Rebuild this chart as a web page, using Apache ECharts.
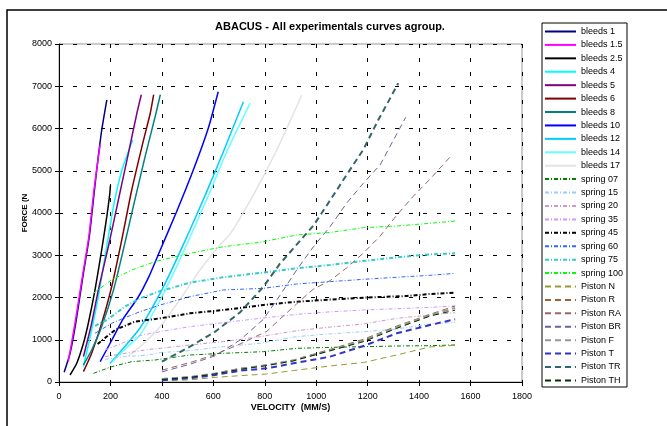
<!DOCTYPE html>
<html>
<head>
<meta charset="utf-8">
<script src="https://cdn.jsdelivr.net/npm/echarts@6/dist/echarts.min.js"></script>
<style>
  html, body { margin: 0; padding: 0; background: #fff; }
  #chart { width: 667px; height: 426px; }
</style>
</head>
<body>
<div id="chart"></div>
<script>
// velocity (mm/s), force (N) pairs
var bleeds1   = [[20,230],[43,680],[65,1390],[93,2500],[118,3450],[138,4550],[152,5300],[167,6000],[186,6680]];
var bleeds1_5 = [[36,480],[62,1390],[91,2500],[116,3444],[136,4550],[148,5100],[160,5620]];
var bleeds2_5 = [[43,166],[69,442],[95,916],[114,1390],[140,2180],[166,3128],[186,3918],[197,4430],[200,4650]];
var bleeds4   = [[95,363],[127,1232],[153,2022],[179,2970],[212,4155],[245,5024],[287,5735]];
var bleeds5   = [[95,600],[127,1390],[153,2180],[192,3207],[231,4313],[270,5419],[303,6367],[320,6800]];
var bleeds6   = [[95,245],[127,680],[166,1390],[205,2260],[244,3365],[283,4550],[329,5735],[355,6367],[368,6800]];
var bleeds8   = [[95,403],[127,758],[166,1311],[212,2180],[250,3128],[289,4155],[335,5340],[374,6288],[394,6800]];
var bleeds10  = [[160,480],[206,1000],[250,1500],[307,2000],[350,2500],[385,3000],[455,4000],[521,5000],[580,6000],[619,6870]];
var bleeds12  = [[199,442],[250,800],[315,1278],[393,2099],[444,2730],[509,3598],[574,4500],[639,5450],[717,6635]];
var bleeds14  = [[205,460],[260,800],[315,1112],[393,1941],[457,2730],[522,3598],[587,4500],[652,5450],[743,6600]];
var bleeds17  = [[270,620],[315,836],[393,1310],[470,1950],[548,2650],[626,3250],[665,3500],[730,4150],[794,4860],[859,5650],[944,6793]];

var spring07  = [[134,205],[205,363],[283,482],[374,521],[509,639],[639,679],[794,718],[924,797],[1054,820],[1183,836],[1313,852],[1442,860],[1540,876]];
var spring15  = [[179,537],[257,600],[348,640],[393,695],[509,742],[639,837],[781,916],[924,1073],[1054,1140],[1183,1191],[1313,1254],[1442,1373],[1540,1412]];
var spring20  = [[179,600],[257,679],[348,774],[393,796],[509,876],[639,955],[781,1073],[924,1215],[1054,1300],[1183,1373],[1313,1507],[1442,1585],[1540,1641]];
var spring35  = [[179,758],[244,916],[315,1100],[393,1191],[509,1310],[639,1404],[781,1507],[924,1601],[1054,1660],[1183,1704],[1352,1744],[1442,1767],[1540,1799]];
var spring45  = [[150,900],[218,1232],[296,1430],[393,1507],[509,1625],[639,1704],[794,1822],[924,1901],[1054,1950],[1183,1996],[1352,2036],[1442,2083],[1540,2115]];
var spring60  = [[140,1153],[205,1390],[283,1588],[315,1665],[393,1822],[509,2020],[639,2178],[794,2217],[924,2320],[1054,2375],[1183,2430],[1352,2493],[1442,2525],[1540,2572]];
var spring75  = [[140,1330],[186,1470],[257,1785],[315,1981],[393,2150],[509,2350],[639,2480],[794,2590],[924,2691],[1054,2770],[1183,2864],[1313,2951],[1442,3022],[1540,3046]];
var spring100 = [[134,2100],[205,2420],[283,2650],[374,2850],[509,3046],[639,3203],[781,3306],[924,3479],[1054,3540],[1183,3652],[1313,3692],[1442,3756],[1540,3810]];

var pistonN  = [[400,30],[509,50],[607,110],[704,150],[808,190],[911,270],[1054,380],[1183,460],[1313,640],[1442,830],[1540,870]];
var pistonR  = [[400,70],[509,120],[607,205],[704,324],[808,402],[911,521],[1054,774],[1183,1010],[1313,1325],[1442,1602],[1540,1800]];
var pistonRA = [[400,280],[509,460],[607,650],[704,900],[808,1200],[870,1550],[924,1850],[989,2200],[1054,2400],[1118,2700],[1183,3050],[1248,3450],[1313,3950],[1378,4400],[1442,4800],[1527,5370]];
var pistonBR = [[400,240],[509,420],[607,620],[704,994],[794,1480],[859,2050],[924,2651],[989,3203],[1054,3677],[1118,4230],[1183,4703],[1248,5136],[1348,6266]];
var pistonF  = [[400,70],[509,120],[607,200],[704,310],[808,400],[911,510],[1054,750],[1183,980],[1313,1290],[1442,1580],[1540,1750]];
var pistonT  = [[400,40],[509,90],[607,166],[704,268],[808,324],[911,442],[1054,600],[1183,852],[1313,1152],[1442,1349],[1540,1484]];
var pistonTR = [[400,480],[509,836],[607,1191],[704,1650],[794,2250],[859,2800],[924,3250],[989,3700],[1054,4300],[1118,4900],[1183,5500],[1241,6200],[1319,7070]];
var pistonTH = [[400,60],[509,110],[607,190],[704,300],[808,390],[911,500],[1054,740],[1183,954],[1313,1270],[1442,1560],[1540,1700]];

var xTicks = [0, 200, 400, 600, 800, 1000, 1200, 1400, 1600, 1800];
var yTicks = [0, 1000, 2000, 3000, 4000, 5000, 6000, 7000, 8000];

var font = 'Liberation Sans, Arial, sans-serif';
var springDash = [4, 2, 1, 2];
var pistonDash = [6, 4];

line = function(name, data, color, dash, width) {
    return {
        name: name,
        type: 'line',
        data: data,
        symbol: 'none',
        showSymbol: false,
        smooth: dash === 'solid' ? 0.2 : false,
        lineStyle: { color: color, width: width, type: dash },
        itemStyle: { color: color },
        emphasis: { disabled: true }
    };
};

var series = [
    line('bleeds 1', bleeds1, '#000080', 'solid', 1.5),
    line('bleeds 1.5', bleeds1_5, '#FF00FF', 'solid', 1.5),
    line('bleeds 2.5', bleeds2_5, '#000000', 'solid', 1.5),
    line('bleeds 4', bleeds4, '#00FFFF', 'solid', 1.5),
    line('bleeds 5', bleeds5, '#800080', 'solid', 1.5),
    line('bleeds 6', bleeds6, '#800000', 'solid', 1.5),
    line('bleeds 8', bleeds8, '#008080', 'solid', 1.5),
    line('bleeds 10', bleeds10, '#0000FF', 'solid', 1.5),
    line('bleeds 12', bleeds12, '#00CCFF', 'solid', 1.5),
    line('bleeds 14', bleeds14, '#66FFFF', 'solid', 1.5),
    line('bleeds 17', bleeds17, '#E3E3E3', 'solid', 1.5),
    line('spring 07', spring07, '#008000', springDash, 1),
    line('spring 15', spring15, '#99CCFF', springDash, 1),
    line('spring 20', spring20, '#CC99CC', springDash, 1),
    line('spring 35', spring35, '#CC99FF', springDash, 1),
    line('spring 45', spring45, '#000000', springDash, 2),
    line('spring 60', spring60, '#3366FF', springDash, 1),
    line('spring 75', spring75, '#33CCCC', springDash, 2),
    line('spring 100', spring100, '#00FF00', springDash, 1),
    line('Piston N', pistonN, '#999933', pistonDash, 1),
    line('Piston R', pistonR, '#996633', pistonDash, 1),
    line('Piston RA', pistonRA, '#996666', pistonDash, 1),
    line('Piston BR', pistonBR, '#666699', pistonDash, 1),
    line('Piston F', pistonF, '#969696', pistonDash, 2),
    line('Piston T', pistonT, '#3333CC', pistonDash, 2),
    line('Piston TR', pistonTR, '#336666', pistonDash, 2),
    line('Piston TH', pistonTH, '#003300', pistonDash, 1)
];

var myChart = echarts.init(document.getElementById('chart'), null, { renderer: 'canvas' });

var option = {
    animation: false,
    backgroundColor: '#fff',
    textStyle: { fontFamily: font },
    grid: {
        left: 59, top: 44, right: 145, bottom: 44,
        show: true, borderColor: '#999', borderWidth: 1
    },
    legend: {
        orient: 'vertical',
        left: 544,
        top: 27,
        padding: 0,
        itemWidth: 31,
        itemHeight: 10,
        itemGap: 4.42,
        itemStyle: { opacity: 0 },
        textStyle: { fontSize: 9, color: '#000', fontFamily: font },
        data: series.map(function(s) { return s.name; })
    },
    xAxis: {
        type: 'value',
        min: xTicks[0],
        max: xTicks[xTicks.length - 1],
        interval: 200,
        name: 'VELOCITY  (MM/S)',
        nameLocation: 'middle',
        nameGap: 21,
        nameMoveOverlap: false,
        nameTextStyle: { fontSize: 9, fontWeight: 'bold', color: '#000', fontFamily: font },
        axisLine: { lineStyle: { color: '#000', width: 1 } },
        axisTick: { show: true, inside: false, length: 4, lineStyle: { color: '#000' } },
        axisLabel: { fontSize: 9, color: '#000', margin: 10, formatter: function(v) { return String(v); } },
        splitLine: { show: true, lineStyle: { color: '#000', type: [4, 10], width: 1 } }
    },
    yAxis: {
        type: 'value',
        min: yTicks[0],
        max: yTicks[yTicks.length - 1],
        interval: 1000,
        name: 'FORCE (N',
        nameLocation: 'middle',
        nameGap: 30,
        nameMoveOverlap: false,
        nameTextStyle: { fontSize: 8, fontWeight: 'bold', color: '#000', fontFamily: font },
        axisLine: { show: true, lineStyle: { color: '#000', width: 1 } },
        axisTick: { show: true, inside: false, length: 4, lineStyle: { color: '#000' } },
        axisLabel: { fontSize: 9, color: '#000', margin: 7, formatter: function(v) { return String(v); } },
        splitLine: { show: true, lineStyle: { color: '#000', type: [4, 10], width: 1 } }
    },
    graphic: [
        {
            type: 'rect', silent: true, z: -1,
            shape: { x: 7, y: 10, width: 720, height: 500 },
            style: { fill: null, stroke: '#000', lineWidth: 1.5 }
        },
        {
            type: 'rect', silent: true,
            shape: { x: 542, y: 23, width: 85, height: 364 },
            style: { fill: null, stroke: '#000', lineWidth: 1 }
        },
        {
            type: 'text', silent: true,
            x: 330, y: 27,
            style: {
                text: 'ABACUS - All experimentals curves agroup.',
                font: 'bold 11px ' + font,
                fill: '#000',
                textAlign: 'center',
                textVerticalAlign: 'middle'
            }
        }
    ],
    series: series
};

myChart.setOption(option);
</script>
</body>
</html>
